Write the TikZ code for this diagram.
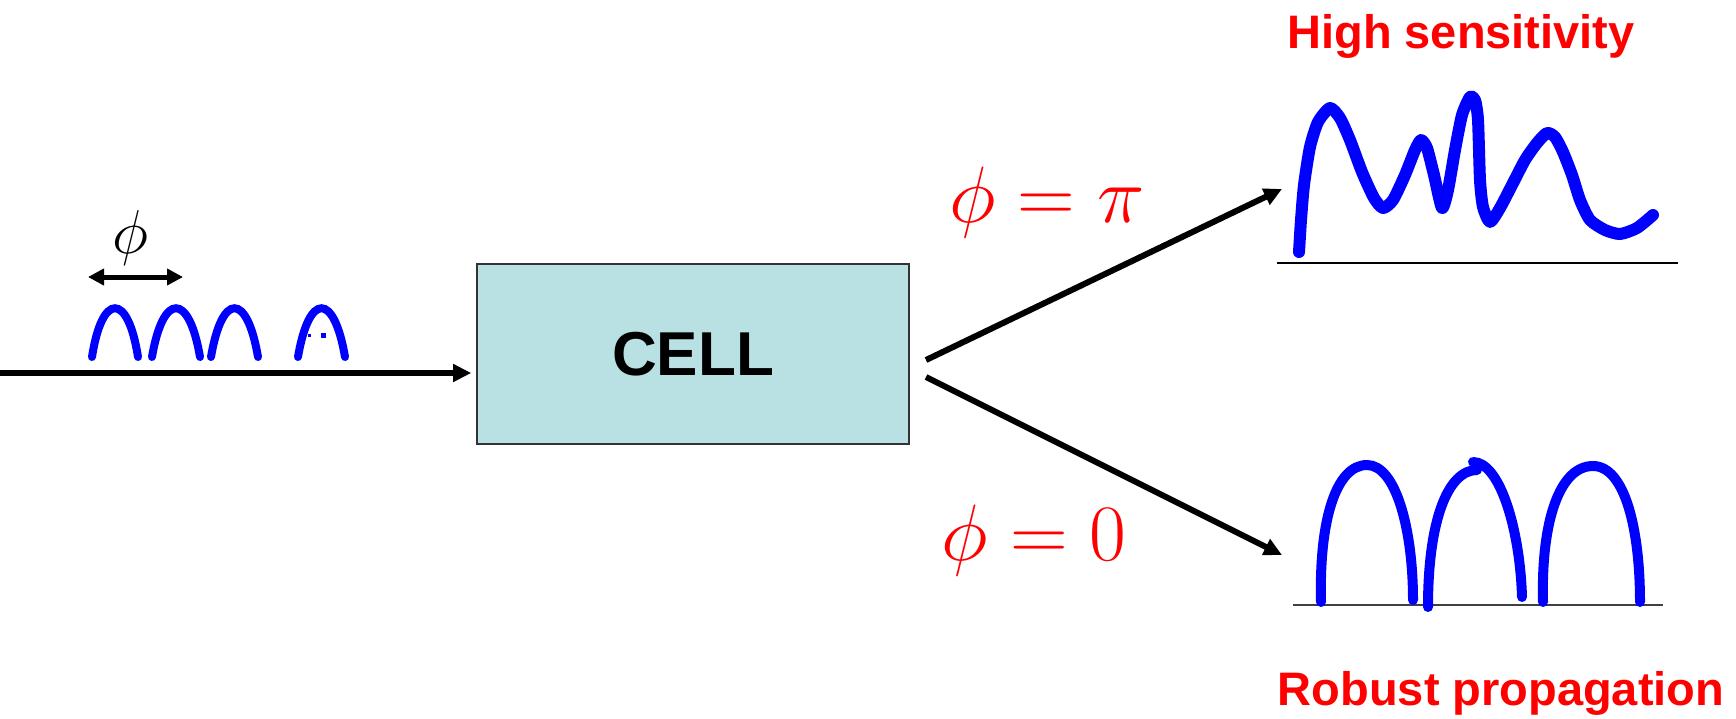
\RequirePackage{fix-cm}
\documentclass[tikz,border=0pt]{standalone}
\usepackage{fontspec}
\newfontfamily\lab{Liberation Sans}
\usetikzlibrary{arrows.meta}
\definecolor{cellfill}{RGB}{185,224,227}
\definecolor{pblue}{RGB}{0,0,255}
\definecolor{pred}{RGB}{255,0,0}
\begin{document}
\begin{tikzpicture}[x=0.5pt,y=-0.5pt,
  conn/.style={line width=3pt,-{Triangle[length=9pt,width=8.5pt]}},
  dimarrow/.style={line width=2.5pt,{Triangle[length=8pt,width=8pt]}-{Triangle[length=8pt,width=8pt]}},
  pulse/.style={pblue,line width=4pt,line cap=round},
  trace/.style={pblue,line width=6pt,line cap=round,line join=round},
  arch/.style={pblue,line width=5pt,line cap=round},
  axisline/.style={line width=1pt},
  title/.style={pred,font=\lab\bfseries\fontsize{23.5}{28}\selectfont},
  mathlab/.style={pred,font=\fontsize{40}{46}\selectfont},
  cellbox/.style={draw=black!80,line width=0.8pt,fill=cellfill,minimum width=216pt,minimum height=90pt,inner sep=0pt,font=\lab\bfseries\fontsize{31}{36}\selectfont}
]
\useasboundingbox (0,0) rectangle (1736,718);

% cell
\node[cellbox] (cell) at (693,354) {CELL};

% input arrow
\coordinate (in) at (0,373);
\draw[conn,shorten >=2.5pt] (in) -- (in -| cell.west);

% phi spacing
\coordinate (pa) at (88,277);
\coordinate (pb) at (183,277);
\draw[dimarrow] (pa) -- (pb);
\node[anchor=base,font=\fontsize{31}{36}\selectfont] (lphi) at (130,253) {$\phi$};

% input pulses
\draw[pulse] (92,357) .. controls (102,292) and (128,292) .. (138,357);
\draw[pulse] (152,357) .. controls (163,292) and (189,292) .. (200,357);
\draw[pulse] (211,357) .. controls (222,292) and (247,292) .. (258,357);
\draw[pulse] (298,357) .. controls (309,292) and (334,292) .. (345,357);
\fill[pblue] (308,334) rectangle (311,337);
\fill[pblue] (321,333) rectangle (326,338);

% branch arrows
\coordinate (u0) at (926,360);
\coordinate (u1) at (1282,189);
\coordinate (d0) at (926,377);
\coordinate (d1) at (1282,555);
\draw[conn] (u0) -- (u1);
\draw[conn] (d0) -- (d1);

\node[mathlab,anchor=base] (lpi) at (1047,222) {$\phi=\pi$};
\node[mathlab,anchor=base] (lzero) at (1034,560) {$\phi=0$};

% upper output
\coordinate (ta) at (1277,263);
\coordinate (tb) at (1678,263);
\draw[axisline] (ta) -- (tb);
\draw[trace] plot[smooth,tension=0.4] coordinates {(1299,252) (1301,220) (1304,185) (1310,147) (1318,122) (1330,108) (1340,118) (1350,140) (1362,172) (1374,198) (1383,208) (1393,200) (1405,175) (1415,150) (1421,140) (1427,148) (1434,175) (1442,208) (1448,190) (1455,150) (1462,115) (1470,97) (1475,100) (1478,120) (1480,180) (1483,207) (1490,222) (1500,208) (1512,185) (1525,160) (1537,143) (1547,133) (1555,137) (1563,152) (1572,175) (1580,200) (1590,220) (1605,230) (1620,234) (1637,228) (1653,215)};
\node[title,anchor=base] (hs) at (1461,48) {High sensitivity};

% lower output
\coordinate (ba) at (1293,605);
\coordinate (bb) at (1663,605);
\draw[axisline,black!75] (ba) -- (bb);
\draw[arch] (1321,602) .. controls (1319,520) and (1336,465) .. (1367,465) .. controls (1396,465) and (1413,530) .. (1413,600);
\draw[arch] (1428,607) .. controls (1428,520) and (1448,470) .. (1477,470);
\draw[arch] (1473,462) .. controls (1500,462) and (1520,530) .. (1522,597);
\draw[arch] (1543,602) .. controls (1541,520) and (1560,466) .. (1593,466) .. controls (1625,466) and (1640,530) .. (1640,602);
\node[title,anchor=base] (rp) at (1501,705) {Robust propagation};
\end{tikzpicture}
\end{document}
